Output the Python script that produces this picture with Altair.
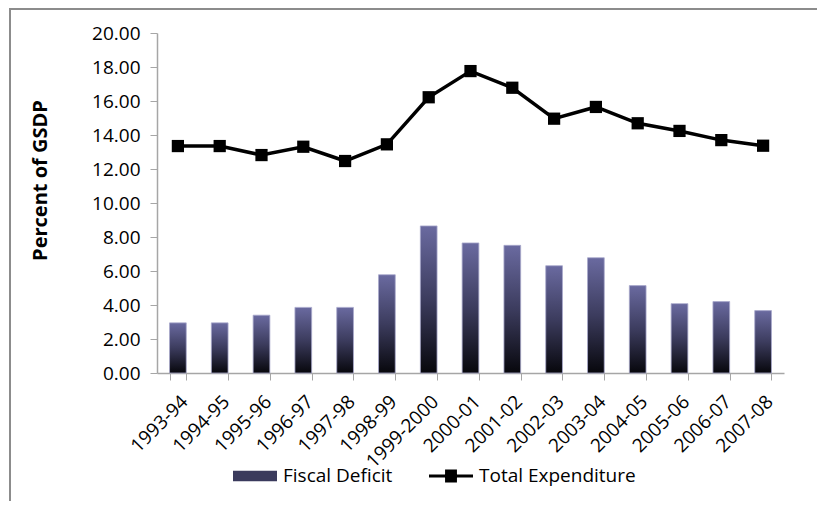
import altair as alt
import pandas as pd

years = ["1993-94", "1994-95", "1995-96", "1996-97", "1997-98", "1998-99",
         "1999-2000", "2000-01", "2001-02", "2002-03", "2003-04", "2004-05",
         "2005-06", "2006-07", "2007-08"]
fiscal_deficit = [2.95, 2.95, 3.40, 3.86, 3.86, 5.78, 8.65, 7.65, 7.51, 6.31,
                  6.78, 5.14, 4.08, 4.20, 3.67]
total_expenditure = [13.35, 13.35, 12.82, 13.31, 12.47, 13.45, 16.22, 17.76,
                     16.78, 14.96, 15.65, 14.69, 14.24, 13.70, 13.37]
series_names = ["Fiscal Deficit", "Total Expenditure"]
y_ticks = [0, 2, 4, 6, 8, 10, 12, 14, 16, 18, 20]

df = pd.DataFrame({"year": years, "fd": fiscal_deficit, "te": total_expenditure})
long_df = pd.DataFrame({
    "year": years * 2,
    "series": [series_names[0]] * len(years) + [series_names[1]] * len(years),
    "value": fiscal_deficit + total_expenditure,
})

FONT = "Open Sans"
GRAY = "#a6a6a6"

x_scale = alt.Scale(paddingInner=0.6, paddingOuter=0.3)
x_axis = alt.Axis(title=None, labelAngle=-45, labelFont=FONT, labelFontSize=19,
                  labelColor="black", domainColor=GRAY, tickColor=GRAY,
                  tickSize=7, tickBand="extent", labelPadding=12, domainWidth=1.5,
                  labelOverlap=False)
y_scale = alt.Scale(domain=[0, 20], nice=False)
y_axis = alt.Axis(title="Percent of GSDP", values=y_ticks, format=".2f",
                  labelFont=FONT, labelFontSize=19, labelColor="black",
                  domainColor=GRAY, tickColor=GRAY, tickSize=7, grid=False,
                  labelPadding=10, domainWidth=1.5, labelOverlap=False,
                  titleFont=FONT, titleFontSize=20, titleFontWeight="bold",
                  titleColor="black", titleX=-117, titleY=147,
                  titleAlign="center", titleBaseline="middle")


def X():
    return alt.X("year:N", sort=years, scale=x_scale, axis=x_axis)


def Y(field):
    return alt.Y(field, scale=y_scale, axis=y_axis)


grad = alt.Gradient(
    gradient="linear",
    stops=[alt.GradientStop(color="#07070c", offset=0),
           alt.GradientStop(color="#3c3c5e", offset=0.5),
           alt.GradientStop(color="#6a6aa0", offset=1)],
    x1=0, x2=0, y1=1, y2=0,
)

base = alt.Chart(df)

bars = base.mark_bar(color=grad, stroke="#a8a8cc", strokeWidth=0.8).encode(
    x=X(), y=Y("fd:Q"))

line = base.mark_line(color="black", strokeWidth=3.5).encode(
    x=X(), y=Y("te:Q"))

squares = base.mark_square(color="black", size=150, opacity=1).encode(
    x=X(), y=Y("te:Q"))

rect_path = "M-1,-0.24H1V0.24H-1Z"
line_sq_path = "M-1,-0.07H1V0.07H-1Z M-0.27,-0.3H0.27V0.3H-0.27Z"

leg = alt.Legend(title=None, orient="none", legendX=76, legendY=421,
                 direction="horizontal", labelFont=FONT,
                 labelFontSize=19, labelColor="black",
                 symbolOpacity=1, symbolSize=1936,
                 symbolStrokeWidth=0, labelOffset=6,
                 columnPadding=36)

legend_layer = alt.Chart(long_df).mark_point(filled=True, opacity=0).encode(
    x=X(), y=Y("value:Q"),
    color=alt.Color("series:N", scale=alt.Scale(domain=series_names, range=["#3a3a5c", "black"]),
                    legend=leg),
    shape=alt.Shape("series:N", scale=alt.Scale(domain=series_names, range=[rect_path, line_sq_path]),
                    legend=leg),
)

frame_df = pd.DataFrame({"k": [0]})
frame_left = alt.Chart(frame_df).mark_rule(color="#8c8c8c", strokeWidth=2).encode(
    x=alt.value(-147), y=alt.value(-24), y2=alt.value(468))
frame_top = alt.Chart(frame_df).mark_rule(color="#8c8c8c", strokeWidth=2).encode(
    x=alt.value(-148), x2=alt.value(660), y=alt.value(-24))

chart = alt.layer(frame_left, frame_top, bars, line, squares, legend_layer).properties(
    width=627, height=340,
    background="white",
    autosize=alt.AutoSizeParams(type="none"),
    padding={"left": 149, "top": 25, "right": 33, "bottom": 128},
).configure_view(stroke=None)

chart.save("out.html", embed_options={"renderer": "svg", "actions": False})
